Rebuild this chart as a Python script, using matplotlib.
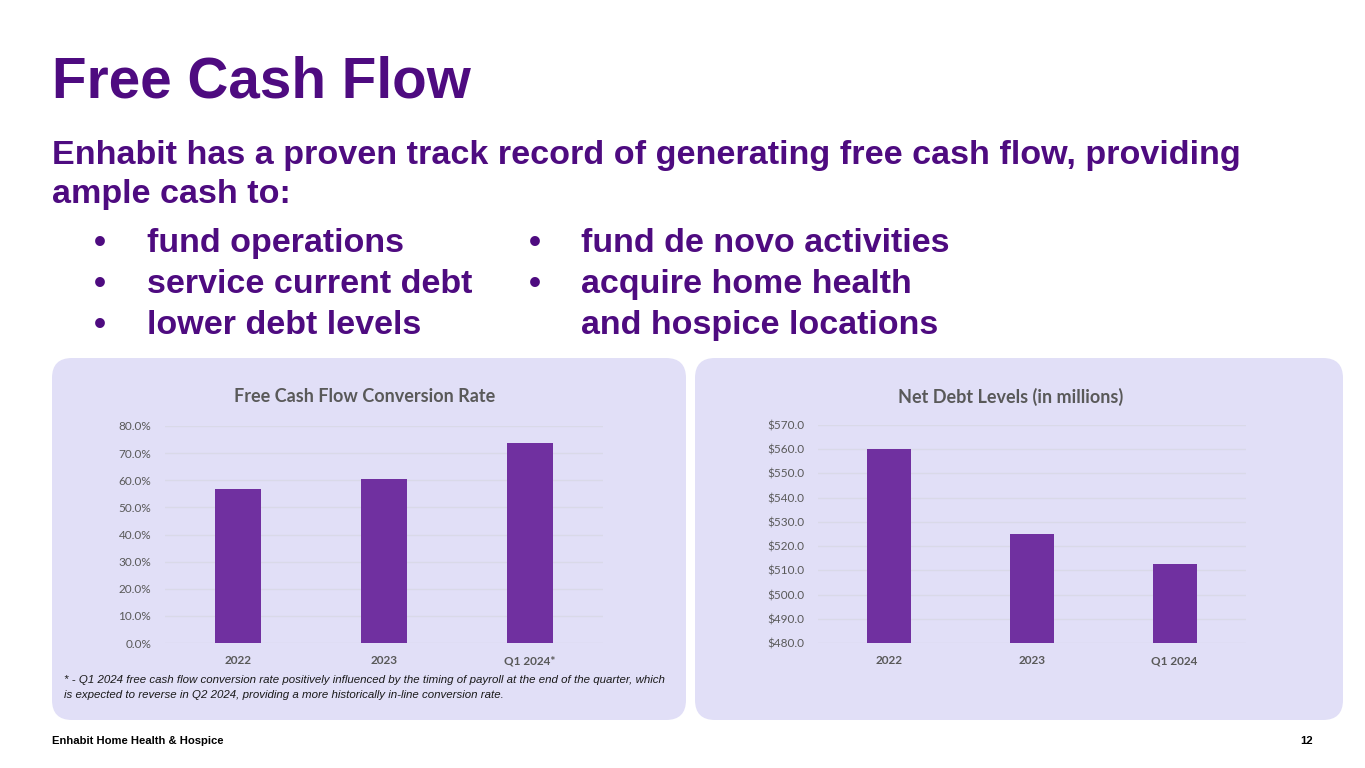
import matplotlib
matplotlib.use('Agg')
import matplotlib.pyplot as plt
from matplotlib.patches import FancyBboxPatch
from matplotlib.ticker import FuncFormatter

# data
fcf_cats = ['2022', '2023', 'Q1 2024*']
fcf_rate = [56.6, 60.3, 73.7]
debt_cats = ['2022', '2023', 'Q1 2024']
net_debt = [560.2, 525.1, 512.8]

left_bullets = ['fund operations', 'service current debt', 'lower debt levels']
right_bullets = ['fund de novo activities', 'acquire home health\nand hospice locations']

PURPLE = '#4E0B80'
BAR = '#7030A0'
PANEL = '#E1DFF7'
GRAY = '#595959'
GRID = '#D9D9E8'

W, H = 1365, 768
fig = plt.figure(figsize=(W / 100, H / 100), dpi=100)
fig.patch.set_facecolor('white')

# background axes in pixel coords
bg = fig.add_axes([0, 0, 1, 1])
bg.set_xlim(0, W)
bg.set_ylim(H, 0)
bg.axis('off')

sans = ['Liberation Sans', 'DejaVu Sans']
chart_font = ['Lato', 'DejaVu Sans']

bg.text(52, 98, 'Free Cash Flow', fontsize=40.8, fontweight='bold', color=PURPLE,
        family=sans, va='baseline')
bg.text(52, 164, 'Enhabit has a proven track record of generating free cash flow, providing',
        fontsize=24.6, fontweight='bold', color=PURPLE, family=sans, va='baseline')
bg.text(52, 203, 'ample cash to:', fontsize=24.6, fontweight='bold', color=PURPLE,
        family=sans, va='baseline')

for i, txt in enumerate(left_bullets):
    y = 252 + i * 41
    bg.text(100, y, '•', fontsize=24.5, fontweight='bold', color=PURPLE, family=sans,
            va='baseline', ha='center')
    bg.text(147, y, txt, fontsize=24.5, fontweight='bold', color=PURPLE, family=sans,
            va='baseline')

y = 252
for txt in right_bullets:
    bg.text(535, y, '•', fontsize=24.5, fontweight='bold', color=PURPLE, family=sans,
            va='baseline', ha='center')
    for j, line in enumerate(txt.split('\n')):
        bg.text(581, y + j * 41, line, fontsize=24.5, fontweight='bold', color=PURPLE,
                family=sans, va='baseline')
    y += 41 * len(txt.split('\n'))

# panels
for x0, x1 in [(52, 686), (695, 1343)]:
    bg.add_patch(FancyBboxPatch((x0 + 20, 358 + 20), x1 - x0 - 40, 720 - 358 - 40,
                                boxstyle='round,pad=20', fc=PANEL, ec='none'))

bg.text(64, 680, '* - Q1 2024 free cash flow conversion rate positively influenced by the timing '
        'of payroll at the end of the quarter, which', fontsize=8.25, style='italic',
        color='#1a1a1a', family=sans, va='center')
bg.text(64, 695, 'is expected to reverse in Q2 2024, providing a more historically in-line '
        'conversion rate.', fontsize=8.25, style='italic', color='#1a1a1a', family=sans,
        va='center')

bg.text(52, 741, 'Enhabit Home Health & Hospice', fontsize=8.1, fontweight='bold',
        color='black', family=sans, va='center')
bg.text(1313, 741, '12', fontsize=8.1, fontweight='bold', color='black', family=sans,
        va='center', ha='right')


def make_chart(x0, x1, y0, y1, cats, vals, ylim, step, fmt, title, title_x):
    ax = fig.add_axes([x0 / W, 1 - y1 / H, (x1 - x0) / W, (y1 - y0) / H])
    ax.set_facecolor('none')
    xs = range(len(cats))
    ax.bar(xs, vals, width=0.31, color=BAR, zorder=3)
    ax.set_xlim(-0.5, len(cats) - 0.5)
    ax.set_ylim(*ylim)
    ticks = []
    t = ylim[0]
    while t <= ylim[1] + 1e-9:
        ticks.append(t)
        t += step
    ax.set_yticks(ticks)
    ax.yaxis.set_major_formatter(FuncFormatter(fmt))
    ax.set_xticks(list(xs))
    ax.set_xticklabels(cats, fontweight='bold')
    ax.grid(axis='y', color=GRID, linewidth=1, zorder=0)
    for s in ax.spines.values():
        s.set_visible(False)
    ax.tick_params(axis='both', length=0, colors=GRAY, labelsize=8.5)
    ax.tick_params(axis='y', pad=10)
    ax.tick_params(axis='x', pad=9)
    for lab in ax.get_xticklabels() + ax.get_yticklabels():
        lab.set_family(chart_font)
    bg.text(title_x, 397, title, fontsize=13, fontweight='bold', color=GRAY,
            family=chart_font, ha='center', va='center')
    return ax


make_chart(165, 603, 426, 643, fcf_cats, fcf_rate, (0, 80), 10,
           lambda v, p: f'{v:.1f}%', 'Free Cash Flow Conversion Rate', 365)
make_chart(818, 1246, 425, 643, debt_cats, net_debt, (480, 570), 10,
           lambda v, p: f'${v:.1f}', 'Net Debt Levels (in millions)', 1011)

fig.savefig('out.png', dpi=100, facecolor='white')
